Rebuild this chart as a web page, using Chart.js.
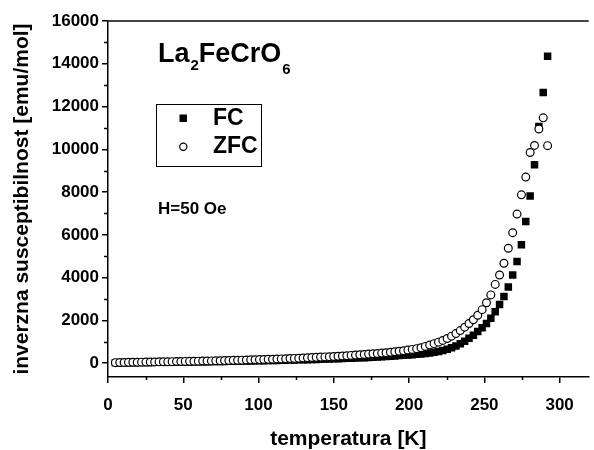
<!DOCTYPE html>
<html><head><meta charset="utf-8">
<script src="https://cdn.jsdelivr.net/npm/chart.js@4.4.0/dist/chart.umd.min.js"></script>
<style>html,body{margin:0;padding:0;background:#fff;overflow:hidden}#wrap{position:relative;width:594px;height:450px}</style>
</head><body><div id="wrap"><canvas id="c" width="594" height="450"></canvas></div>
<script>
const temperatures = [
  4.9, 7.8, 10.7, 13.6, 16.5, 19.4, 22.3, 25.2, 28.1, 31.0,
  33.9, 36.8, 39.7, 42.6, 45.5, 48.4, 51.3, 54.2, 57.1, 60.0,
  62.9, 65.8, 68.7, 71.6, 74.5, 77.4, 80.3, 83.2, 86.1, 89.0,
  91.9, 94.8, 97.7, 100.6, 103.5, 106.4, 109.3, 112.2, 115.1, 118.0,
  120.9, 123.8, 126.7, 129.6, 132.5, 135.4, 138.3, 141.2, 144.1, 147.0,
  149.9, 152.8, 155.7, 158.6, 161.5, 164.4, 167.3, 170.2, 173.1, 176.0,
  178.9, 181.8, 184.7, 187.6, 190.5, 193.4, 196.3, 199.2, 202.1, 205.0,
  207.9, 210.8, 213.7, 216.6, 219.5, 222.4, 225.3, 228.2, 231.1, 234.0,
  236.9, 239.8, 242.7, 245.6, 248.5, 251.4, 254.3, 257.2, 260.1, 263.0,
  265.9, 268.8, 271.7, 274.6, 277.5, 280.4, 283.3, 286.2, 289.1, 292.0
];
const fcValues = [
  11, 14, 17, 20, 22, 25, 28, 30, 33, 35,
  38, 40, 43, 45, 48, 50, 53, 56, 58, 61,
  64, 67, 70, 73, 76, 80, 83, 86, 90, 93,
  97, 101, 105, 109, 113, 118, 122, 126, 131, 136,
  141, 146, 151, 156, 162, 168, 174, 180, 186, 193,
  200, 207, 214, 222, 230, 238, 247, 256, 266, 276,
  287, 298, 310, 322, 335, 350, 365, 380, 395, 410,
  430, 450, 475, 505, 545, 590, 650, 720, 800, 910,
  1020, 1160, 1300, 1480, 1650, 1850, 2100, 2400, 2740, 3110,
  3560, 4120, 4750, 5530, 6620, 7820, 9280, 11070, 12660, 14350
];
const zfcValues = [
  22, 27, 31, 35, 38, 42, 45, 48, 52, 55,
  58, 61, 65, 68, 72, 75, 79, 83, 87, 91,
  95, 99, 104, 108, 113, 118, 123, 128, 134, 139,
  145, 151, 157, 163, 170, 176, 183, 190, 197, 205,
  213, 221, 230, 239, 250, 260, 270, 280, 290, 300,
  311, 322, 334, 346, 360, 375, 390, 405, 420, 435,
  450, 468, 487, 507, 530, 555, 580, 610, 640, 675,
  720, 780, 845, 910, 980, 1060, 1150, 1260, 1380, 1520,
  1680, 1850, 2030, 2240, 2500, 2820, 3190, 3680, 4120, 4670,
  5370, 6100, 6970, 7870, 8700, 9850, 10180, 10950, 11470, 10170
];
const xTicks = [0, 50, 100, 150, 200, 250, 300];
const xMinorTicks = [25, 75, 125, 175, 225, 275];
const yTicks = [0, 2000, 4000, 6000, 8000, 10000, 12000, 14000, 16000];
const yMinorTicks = [1000, 3000, 5000, 7000, 9000, 11000, 13000, 15000];
const seriesNames = ['FC', 'ZFC'];
const compoundParts = ['La', '2', 'FeCrO', '6'];
const fieldLabel = 'H=50 Oe';
const xTitle = 'temperatura [K]';
const yTitle = 'inverzna susceptibilnost [emu/mol]';

const FONT = '"Liberation Sans", Arial, Helvetica, sans-serif';
Chart.defaults.font.family = FONT;
Chart.defaults.color = '#000';

const fcPoints = temperatures.map((t, i) => ({x: t, y: fcValues[i]}));
const zfcPoints = temperatures.map((t, i) => ({x: t, y: zfcValues[i]}));

const decor = {
  id: 'decor',
  afterDraw(chart) {
    const ctx = chart.ctx;
    const a = chart.chartArea;
    const xs = chart.scales.x, ys = chart.scales.y;
    ctx.save();
    // top frame line
    ctx.strokeStyle = '#444';
    ctx.lineWidth = 2;
    ctx.beginPath();
    ctx.moveTo(a.left, a.top);
    ctx.lineTo(a.right, a.top);
    ctx.stroke();
    // minor ticks
    ctx.strokeStyle = '#000';
    ctx.lineWidth = 1.5;
    ctx.beginPath();
    yMinorTicks.forEach(v => {
      const p = Math.round(ys.getPixelForValue(v)) + 0.5;
      ctx.moveTo(a.left - 4, p); ctx.lineTo(a.left, p);
    });
    xMinorTicks.forEach(v => {
      const p = Math.round(xs.getPixelForValue(v)) + 0.5;
      ctx.moveTo(p, a.bottom); ctx.lineTo(p, a.bottom + 3);
    });
    ctx.stroke();
    // compound name with subscripts
    ctx.fillStyle = '#000';
    ctx.textBaseline = 'alphabetic';
    ctx.textAlign = 'left';
    let x = 158;
    const big = 'bold 27px ' + FONT, small = 'bold 15px ' + FONT;
    ctx.font = big; ctx.fillText(compoundParts[0], x, 62); x += ctx.measureText(compoundParts[0]).width + 1;
    ctx.font = small; ctx.fillText(compoundParts[1], x, 70); x += ctx.measureText(compoundParts[1]).width;
    ctx.font = big; ctx.fillText(compoundParts[2], x, 62); x += ctx.measureText(compoundParts[2]).width + 1;
    ctx.font = small; ctx.fillText(compoundParts[3], x, 74);
    // legend box
    ctx.lineWidth = 1;
    ctx.strokeStyle = '#000';
    ctx.strokeRect(156.5, 104.5, 105, 62);
    ctx.fillRect(179.5, 114.5, 7.5, 7.5);
    ctx.beginPath();
    ctx.arc(183.3, 146.7, 3.6, 0, Math.PI * 2);
    ctx.fillStyle = '#fff'; ctx.fill();
    ctx.strokeStyle = '#000'; ctx.lineWidth = 1.2; ctx.stroke();
    ctx.fillStyle = '#000';
    ctx.font = 'bold 23px ' + FONT;
    ctx.textBaseline = 'middle';
    ctx.fillText(seriesNames[0], 213, 119);
    ctx.fillText(seriesNames[1], 213, 147);
    // field label
    ctx.font = 'bold 17px ' + FONT;
    ctx.textBaseline = 'alphabetic';
    ctx.fillText(fieldLabel, 158, 213.5);
    ctx.restore();
  }
};

new Chart(document.getElementById('c'), {
  type: 'scatter',
  data: {
    datasets: [
      {label: seriesNames[0], data: fcPoints, order: 2, pointStyle: 'rect', pointRadius: 5.3,
       backgroundColor: '#000', borderColor: '#000', borderWidth: 0, showLine: false},
      {label: seriesNames[1], data: zfcPoints, order: 1, pointStyle: 'circle', pointRadius: 3.9,
       backgroundColor: '#fff', borderColor: '#000', borderWidth: 1.2, showLine: false}
    ]
  },
  options: {
    responsive: false,
    animation: false,
    devicePixelRatio: 1,
    layout: {padding: {top: 21, right: 0, left: 0, bottom: 0}},
    plugins: {legend: {display: false}, tooltip: {enabled: false}},
    scales: {
      x: {
        type: 'linear', position: 'bottom', min: 0, max: 319.3,
        afterBuildTicks: s => { s.ticks = xTicks.map(v => ({value: v})); },
        afterFit: s => { s.height = 73; },
        ticks: {font: {size: 17, weight: 'bold'}, color: '#000', padding: 12, maxRotation: 0,
                callback: v => String(v)},
        grid: {drawOnChartArea: false, drawTicks: true, tickLength: 6, color: '#000', lineWidth: 1.5},
        border: {display: true, color: '#000', width: 1.5},
        title: {display: true, text: xTitle, color: '#000', font: {size: 21, weight: 'bold', lineHeight: 1}, padding: {top: 0, bottom: 0}}
      },
      y: {
        type: 'linear', position: 'left', min: -650, max: 16000,
        afterBuildTicks: s => { s.ticks = yTicks.map(v => ({value: v})); },
        afterFit: s => { s.width = 108; },
        ticks: {font: {size: 17, weight: 'bold'}, color: '#000', padding: 3,
                callback: v => String(v)},
        grid: {drawOnChartArea: false, drawTicks: true, tickLength: 6, color: '#000', lineWidth: 1.5},
        border: {display: true, color: '#000', width: 1.5},
        title: {display: true, text: yTitle, color: '#000', font: {size: 21, weight: 'bold', lineHeight: 1}, padding: {top: 12, bottom: 0}}
      }
    }
  },
  plugins: [decor]
});
</script>
</body></html>
